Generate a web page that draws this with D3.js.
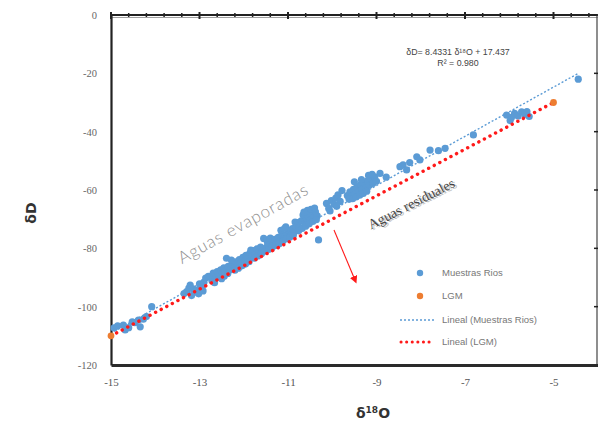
<!DOCTYPE html>
<html>
<head>
<meta charset="utf-8">
<script src="https://cdn.jsdelivr.net/npm/d3@7"></script>
<style>
  html, body { margin: 0; padding: 0; background: #fff; }
  svg { display: block; }
</style>
</head>
<body>
<svg id="chart" width="598" height="433"></svg>
<script>
// River samples: δ18O (‰) and δD (‰)
const riosO = [
  -14.93,-14.85,-14.72,-14.68,-14.60,-14.52,-14.46,-14.38,-14.34,-14.27,-14.20,-14.08,
  -13.35,-13.29,-13.24,-13.21,-13.15,-13.10,-13.06,-13.00,-12.95,-12.90,-12.86,
  -13.18,-13.02,-12.92,
  -12.80,-12.76,-12.72,-12.69,-12.64,-12.60,-12.56,-12.52,-12.48,-12.45,-12.42,-12.39,-12.35,-12.30,
  -12.66,-12.50,-12.44,-12.36,
  -12.26,-12.22,-12.18,-12.14,-12.10,-12.06,-12.02,-11.98,-11.95,-11.90,-11.86,-11.82,
  -12.28,-12.20,-12.12,-12.04,-11.96,-11.88,-11.84,
  -11.78,-11.74,-11.70,-11.66,-11.62,-11.58,-11.55,-11.50,-11.46,-11.42,-11.38,-11.34,
  -11.76,-11.68,-11.60,-11.52,-11.44,-11.36,-11.48,-11.40,
  -11.30,-11.26,-11.22,-11.18,-11.14,-11.10,-11.05,-11.02,-10.98,-10.94,-10.90,-10.86,-10.82,
  -11.28,-11.20,-11.12,-11.04,-10.96,-10.88,-11.16,-11.08,-10.84,
  -10.78,-10.74,-10.70,-10.66,-10.62,-10.58,-10.55,-10.50,-10.46,-10.42,-10.38,-10.34,-10.31,
  -10.76,-10.68,-10.60,-10.52,-10.44,-10.36,-10.64,-10.56,-10.48,-10.40,
  -10.13,-10.08,-10.02,-9.96,-9.92,-9.87,-9.82,
  -10.05,-9.90,-9.78,
  -9.66,-9.60,-9.56,-9.52,-9.48,-9.44,-9.40,-9.36,-9.32,-9.28,-9.24,-9.20,-9.16,-9.12,-9.08,-9.04,-9.00,
  -9.62,-9.54,-9.46,-9.38,-9.30,-9.22,-9.50,-9.34,-9.18,-9.10,
  -8.92,-8.78,-8.47,-8.40,-8.32,-8.25,-8.09,-8.02,-7.79,-7.60,-7.45,
  -6.81,
  -6.06,-5.98,-5.95,-5.88,-5.80,-5.72,-5.65,-5.60,-5.55,
  -4.44
];
const riosD = [
  -107.3,-106.6,-106.3,-108.0,-107.2,-105.2,-105.5,-104.6,-106.9,-104.3,-103.4,-100.0,
  -95.5,-94.8,-93.6,-92.6,-93.9,-95.0,-94.3,-92.2,-93.1,-91.6,-90.2,
  -96.2,-95.6,-94.6,
  -89.6,-89.7,-91.0,-88.5,-90.3,-88.0,-89.2,-87.4,-88.6,-86.7,-87.8,-83.4,-86.2,-87.3,
  -91.8,-90.4,-89.6,-88.6,
  -85.4,-86.6,-84.6,-85.8,-83.9,-84.9,-83.1,-84.3,-82.4,-83.5,-81.6,-82.9,
  -84.0,-87.5,-86.8,-86.0,-85.4,-84.6,-80.6,
  -80.8,-82.1,-80.2,-81.4,-79.6,-80.9,-76.6,-79.8,-78.5,-79.9,-77.8,-79.1,
  -83.4,-82.6,-81.8,-81.0,-80.4,-79.8,-77.2,-76.5,
  -76.9,-78.3,-76.2,-77.5,-75.4,-76.8,-72.6,-75.1,-73.9,-75.5,-73.2,-74.4,-72.5,
  -79.0,-78.4,-77.6,-76.8,-76.2,-75.6,-73.8,-73.2,-71.0,
  -71.2,-72.8,-70.6,-68.6,-71.5,-69.8,-68.9,-70.3,-68.2,-69.6,-67.5,-68.9,-77.1,
  -74.0,-73.2,-72.4,-71.6,-70.8,-70.2,-67.6,-67.0,-66.6,-66.2,
  -64.6,-66.3,-63.6,-64.9,-62.8,-61.7,-63.9,
  -67.2,-65.6,-60.2,
  -61.9,-60.6,-62.2,-59.8,-61.3,-58.9,-60.5,-58.1,-59.7,-57.6,-59.2,-56.9,-58.4,-56.2,-57.7,-55.5,-57.0,
  -63.2,-63.0,-62.4,-61.8,-61.2,-60.4,-57.2,-56.4,-55.0,-54.6,
  -54.3,-55.6,-52.0,-51.4,-53.1,-50.6,-48.6,-49.7,-46.3,-46.5,-45.7,
  -41.1,
  -34.3,-36.2,-35.1,-33.7,-34.6,-33.2,-34.1,-33.1,-34.8,
  -22.0
];

// Global meteoric water line end points (LGM)
const lgmO = [-15, -5];
const lgmD = [-110, -30];

// Fitted line for the river samples
const fitSlope = 8.4331;
const fitIntercept = 17.437;
const fitLabel = "δD= 8.4331 δ¹⁸O + 17.437";
const r2Label = "R² = 0.980";

// Axis ticks
const xTicks = [-15, -13, -11, -9, -7, -5];
const yTicks = [0, -20, -40, -60, -80, -100, -120];

const legendLabels = ["Muestras Rios", "LGM", "Lineal (Muestras Rios)", "Lineal (LGM)"];

const blue = "#5b9bd5", orange = "#ed7d31", red = "#ff1a1a";

const svg = d3.select("#chart");
const x = d3.scaleLinear().domain([-15, -4]).range([111, 597.75]);
const y = d3.scaleLinear().domain([-120, 0]).range([365, 15]);

// Top frame with minor/major ticks
const topFrame = svg.append("g");
topFrame.append("line").attr("x1", x(-15)).attr("x2", x(-4)).attr("y1", y(0)).attr("y2", y(0))
  .attr("stroke", "#222").attr("stroke-width", 2.2);
topFrame.append("line").attr("x1", x(-15)).attr("x2", x(-4)).attr("y1", y(0) + 2.5).attr("y2", y(0) + 2.5)
  .attr("stroke", "#888").attr("stroke-width", 0.8);
d3.range(-15, -4.01, 0.4).forEach(v => {
  const major = Math.abs((v + 15) / 2 - Math.round((v + 15) / 2)) < 1e-6;
  topFrame.append("line").attr("x1", x(v)).attr("x2", x(v))
    .attr("y1", y(0) - (major ? 3 : 2)).attr("y2", y(0) + (major ? 4 : 2))
    .attr("stroke", "#222").attr("stroke-width", major ? 2 : 1.5);
});

// Right frame
svg.append("line").attr("x1", 597).attr("x2", 597).attr("y1", y(0)).attr("y2", y(-120))
  .attr("stroke", "#444").attr("stroke-width", 1.2);
yTicks.forEach(v => {
  svg.append("line").attr("x1", 594).attr("x2", 598).attr("y1", y(v)).attr("y2", y(v))
    .attr("stroke", "#222").attr("stroke-width", 1.5);
});

// Bottom axis
const gx = svg.append("g").attr("transform", `translate(0,${y(-120)})`)
  .call(d3.axisBottom(x).tickValues(xTicks).tickSize(0).tickPadding(13).tickFormat(d => String(d)));
gx.select(".domain").attr("stroke", "#2a2a2a").attr("stroke-width", 3);
gx.selectAll("text").attr("font-family", "Liberation Serif, serif").attr("font-size", 11).attr("fill", "#555");

// Left axis
const gy = svg.append("g").attr("transform", `translate(${x(-15)},0)`)
  .call(d3.axisLeft(y).tickValues(yTicks).tickSize(0).tickPadding(14).tickFormat(d => String(d)));
gy.select(".domain").attr("stroke", "#222").attr("stroke-width", 2.2);
gy.selectAll("text").attr("font-family", "Liberation Serif, serif").attr("font-size", 10.5).attr("fill", "#666");

// Axis titles
svg.append("text").attr("transform", "translate(36,213) rotate(-90)")
  .attr("text-anchor", "middle").attr("font-family", "DejaVu Sans, sans-serif")
  .attr("font-weight", "bold").attr("font-size", 14).attr("fill", "#333").text("δD");
const xt = svg.append("text").attr("x", 373).attr("y", 418).attr("text-anchor", "middle")
  .attr("font-family", "DejaVu Sans, sans-serif").attr("font-weight", "bold")
  .attr("font-size", 14).attr("fill", "#333");
xt.append("tspan").text("δ");
xt.append("tspan").attr("font-size", 9).attr("dy", -5).text("18");
xt.append("tspan").attr("dy", 5).text("O");

// Fitted line (river samples), drawn over the data range
const oExt = d3.extent(riosO);
const line = d3.line().x(d => x(d[0])).y(d => y(d[1]));
svg.append("path")
  .attr("d", line(oExt.map(o => [o, fitSlope * o + fitIntercept])))
  .attr("stroke", blue).attr("stroke-width", 1.4).attr("stroke-dasharray", "2 2")
  .attr("fill", "none");

// River sample points
svg.append("g").selectAll("circle").data(riosO.map((o, i) => [o, riosD[i]])).join("circle")
  .attr("cx", d => x(d[0])).attr("cy", d => y(d[1])).attr("r", 3.6).attr("fill", blue);

// LGM line (dotted red)
svg.append("path")
  .attr("d", line(lgmO.map((o, i) => [o, lgmD[i]])))
  .attr("stroke", red).attr("stroke-width", 3.4).attr("stroke-linecap", "round")
  .attr("stroke-dasharray", "0.1 6.2").attr("fill", "none");

// LGM points
svg.append("g").selectAll("circle").data(lgmO.map((o, i) => [o, lgmD[i]])).join("circle")
  .attr("cx", d => x(d[0])).attr("cy", d => y(d[1])).attr("r", 3.4).attr("fill", orange);

// Regression equation
const eq = svg.append("g").attr("font-family", "Liberation Sans, Arial, sans-serif")
  .attr("font-size", 8.8).attr("fill", "#444").attr("text-anchor", "middle");
eq.append("text").attr("x", 458).attr("y", 55).text(fitLabel);
eq.append("text").attr("x", 458).attr("y", 66).text(r2Label);

// Annotations
svg.append("text").attr("transform", "translate(244,225) rotate(-29)")
  .attr("text-anchor", "middle").attr("dominant-baseline", "middle")
  .attr("font-family", "Lato, Open Sans, sans-serif").attr("font-weight", 300)
  .attr("font-size", 17).attr("letter-spacing", 0.9).attr("fill", "#8e8e8e").text("Aguas evaporadas");

const res = svg.append("g").attr("transform", "translate(412,205) rotate(-27)")
  .attr("font-family", "Liberation Serif, serif").attr("font-size", 14)
  .attr("text-anchor", "middle").attr("dominant-baseline", "middle");
res.append("text").attr("x", 1.3).attr("y", 1.6).attr("fill", "#bdbdbd").text("Aguas residuales");
res.append("text").attr("fill", "#444").text("Aguas residuales");

// Arrow toward residual waters
svg.append("defs").append("marker").attr("id", "head")
  .attr("viewBox", "0 0 10 10").attr("refX", 5).attr("refY", 5)
  .attr("markerWidth", 7).attr("markerHeight", 7).attr("orient", "auto")
  .append("path").attr("d", "M0,0 L10,5 L0,10 Z").attr("fill", red);
svg.append("line").attr("x1", 334).attr("y1", 230).attr("x2", 355).attr("y2", 280)
  .attr("stroke", red).attr("stroke-width", 1.1).attr("marker-end", "url(#head)");

// Legend
const lg = svg.append("g").attr("font-family", "Liberation Sans, Arial, sans-serif")
  .attr("font-size", 9.5).attr("fill", "#777");
const rows = [273, 296, 320, 342];
lg.append("circle").attr("cx", 420).attr("cy", rows[0]).attr("r", 3.2).attr("fill", blue);
lg.append("circle").attr("cx", 420).attr("cy", rows[1]).attr("r", 3.2).attr("fill", orange);
lg.append("line").attr("x1", 400).attr("x2", 434).attr("y1", rows[2]).attr("y2", rows[2])
  .attr("stroke", blue).attr("stroke-width", 1.4).attr("stroke-dasharray", "2 2");
lg.append("line").attr("x1", 401).attr("x2", 434).attr("y1", rows[3]).attr("y2", rows[3])
  .attr("stroke", red).attr("stroke-width", 3).attr("stroke-linecap", "round")
  .attr("stroke-dasharray", "0.1 5.5");
legendLabels.forEach((t, i) => {
  lg.append("text").attr("x", 442).attr("y", rows[i]).attr("dy", "0.35em").text(t);
});
</script>
</body>
</html>
